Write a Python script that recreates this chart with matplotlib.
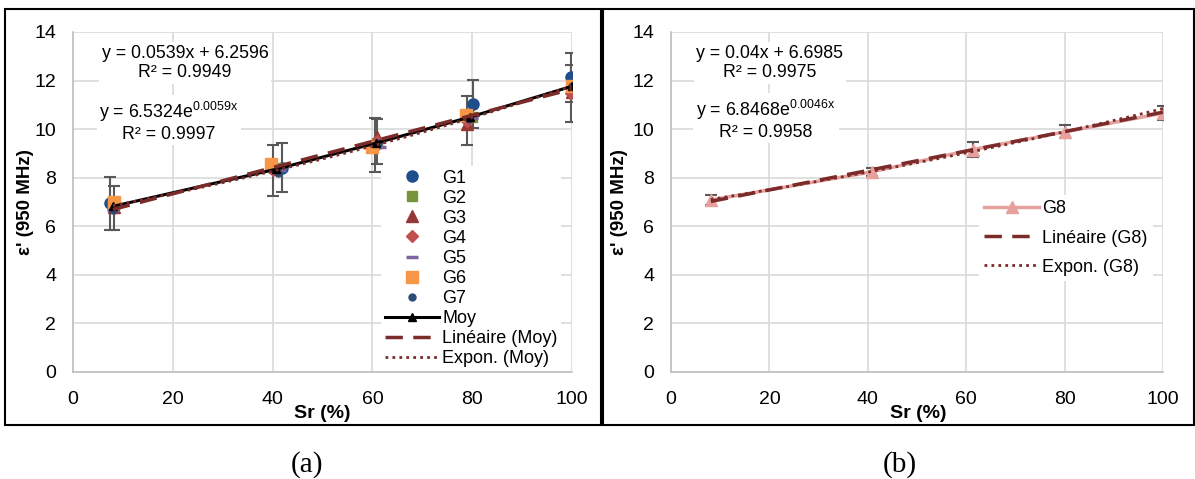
import numpy as np
import matplotlib
matplotlib.use("Agg")
import matplotlib.pyplot as plt
from matplotlib.patches import Rectangle

plt.rcParams['font.family'] = ['Liberation Sans', 'DejaVu Sans']
plt.rcParams['mathtext.fontset'] = 'custom'
plt.rcParams['mathtext.rm'] = 'Liberation Sans'
plt.rcParams['mathtext.it'] = 'Liberation Sans'

# --- data, panel (a) ---
g1_x = [7.4, 41.8, 60.5, 80.1, 99.7]
g1_y = [6.94, 8.42, 9.35, 11.03, 12.13]
g1_err = [1.1, 1.0, 1.1, 1.0, 1.0]
g2_x = [8.0, 40.6, 61.0, 79.9, 100.0]
g2_y = [6.85, 8.38, 9.45, 10.50, 11.70]
g3_x = [8.2, 40.5, 60.9, 79.0, 100.0]
g3_y = [6.80, 8.45, 9.66, 10.23, 11.55]
g4_x = [8.3, 40.1, 60.9, 79.0, 99.8]
g4_y = [6.75, 8.30, 9.50, 10.35, 11.47]
g4_err = [0.9, 1.05, 0.92, 1.0, 1.17]
g5_x = [8.1, 41.5, 61.5, 80.0, 100.0]
g5_y = [6.69, 8.30, 9.25, 10.45, 11.75]
g6_x = [8.2, 39.6, 59.9, 78.7, 99.9]
g6_y = [7.01, 8.56, 9.25, 10.58, 11.77]
g7_x = [8.0, 41.1, 61.2, 79.3, 100.0]
g7_y = [6.66, 8.18, 9.41, 10.40, 11.77]
moy_x = [8.0, 40.7, 60.8, 79.6, 99.9]
moy_y = [6.82, 8.35, 9.43, 10.50, 11.76]
lin_a = (0.0539, 6.2596)
exp_a = (6.5324, 0.0059)

# --- data, panel (b) ---
g8_x = [8.1, 40.8, 61.3, 80.1, 100.0]
g8_y = [7.08, 8.24, 9.16, 9.89, 10.66]
g8_err = [0.2, 0.15, 0.3, 0.27, 0.3]
lin_b = (0.04, 6.6985)
exp_b = (6.8468, 0.0046)

W, H = 1195, 479
fig = plt.figure(figsize=(W / 100, H / 100), dpi=100)

# panel frames
for x0, x1 in [(5, 601), (603, 1194)]:
    fig.add_artist(Rectangle((x0 / W, 1 - 425 / H), (x1 - x0) / W, (425 - 9) / H,
                             transform=fig.transFigure, fill=False,
                             edgecolor='black', linewidth=1.5))

ax1 = fig.add_axes([73 / W, 1 - 372 / H, 499 / W, 340 / H])
ax2 = fig.add_axes([671 / W, 1 - 372 / H, 492 / W, 340 / H])

for ax in (ax1, ax2):
    ax.set_xlim(0, 100)
    ax.set_ylim(0, 14)
    ax.set_xticks(range(0, 101, 20))
    ax.set_yticks(range(0, 15, 2))
    ax.grid(True, color='#D9D9D9', linewidth=1.2)
    ax.set_axisbelow(True)
    for s in ('top', 'right'):
        ax.spines[s].set_visible(False)
    for s in ('left', 'bottom'):
        ax.spines[s].set_color('#BFBFBF')
        ax.spines[s].set_linewidth(1.2)
    ax.tick_params(length=0, labelsize=14, pad=12)
    ax.tick_params(axis='x', pad=14)

ebar = dict(fmt='none', ecolor='#595959', elinewidth=1.5, capsize=4, capthick=1.5, zorder=2)
ax1.errorbar(g1_x, g1_y, yerr=g1_err, **ebar)
ax1.errorbar(g4_x, g4_y, yerr=g4_err, **ebar)

ax1.plot(g1_x, g1_y, 'o', color='#1F4E8C', ms=8, ls='none', label='G1', zorder=3)
ax1.plot(g2_x, g2_y, 's', color='#77933C', ms=6.5, ls='none', label='G2', zorder=3)
ax1.plot(g3_x, g3_y, '^', color='#953735', ms=8, ls='none', label='G3', zorder=3)
ax1.plot(g4_x, g4_y, 'D', color='#C0504D', ms=6, ls='none', label='G4', zorder=3)
ax1.plot(g5_x, g5_y, '_', color='#8064A2', ms=9, mew=2.5, ls='none', label='G5', zorder=3)
ax1.plot(g6_x, g6_y, 's', color='#F79646', ms=8, ls='none', label='G6', zorder=3)
ax1.plot(g7_x, g7_y, 'o', color='#2C4D75', ms=5, ls='none', label='G7', zorder=3)
ax1.plot(moy_x, moy_y, '-^', color='black', lw=2.2, ms=6, label='Moy', zorder=4)

xs = np.linspace(min(moy_x), max(moy_x), 100)
ax1.plot(xs, lin_a[0] * xs + lin_a[1], color='#7B2C2A', lw=2.5, ls=(0, (5, 3)),
         label='Linéaire (Moy)', zorder=5)
ax1.plot(xs, exp_a[0] * np.exp(exp_a[1] * xs), color='#7B2C2A', lw=2, ls=(0, (1, 1.5)),
         label='Expon. (Moy)', zorder=5)

leg1 = ax1.legend(loc='upper left', bbox_to_anchor=(308 / 499, 1 - 134 / 340),
                  frameon=True, fontsize=13, handlelength=3.0, handletextpad=0.2,
                  labelspacing=0.17, borderpad=0.2, borderaxespad=0)
leg1.get_frame().set_edgecolor('none')
leg1.get_frame().set_facecolor('white')
leg1.get_frame().set_alpha(1)
leg1.set_zorder(6)

ax2.errorbar(g8_x, g8_y, yerr=g8_err, **ebar)
ax2.plot(g8_x, g8_y, '-^', color='#E6A09E', lw=2.5, ms=9, label='G8', zorder=3)
xs2 = np.linspace(min(g8_x), max(g8_x), 100)
ax2.plot(xs2, lin_b[0] * xs2 + lin_b[1], color='#7B2C2A', lw=2.5, ls=(0, (5, 3)),
         label='Linéaire (G8)', zorder=5)
ax2.plot(xs2, exp_b[0] * np.exp(exp_b[1] * xs2), color='#7B2C2A', lw=2, ls=(0, (1, 1.5)),
         label='Expon. (G8)', zorder=5)
leg2 = ax2.legend(loc='upper left', bbox_to_anchor=(308 / 492, 1 - 163 / 340),
                  frameon=True, fontsize=13, handlelength=3.0, handletextpad=0.2,
                  labelspacing=0.67, borderpad=0.3, borderaxespad=0)
leg2.get_frame().set_edgecolor('none')
leg2.get_frame().set_facecolor('white')
leg2.get_frame().set_alpha(1)
leg2.set_zorder(6)

# trendline equations
box = dict(facecolor='white', edgecolor='none', pad=2)
def eq(x, y, s):
    fig.text(x, y, s, ha='center', va='center', fontsize=12.8, bbox=box,
             zorder=7, linespacing=1.15)

eq(185 / W, 1 - 63 / H, 'y = %.4fx + %.4f\nR² = 0.9949' % lin_a)
eq(169 / W, 1 - 121 / H, 'y = %.4fe$^{%.4fx}$\nR² = 0.9997' % exp_a)
eq(770 / W, 1 - 63 / H, 'y = 0.04x + %.4f\nR² = 0.9975' % lin_b[1])
eq(766 / W, 1 - 119 / H, 'y = %.4fe$^{%.4fx}$\nR² = 0.9958' % exp_b)

# axis labels
for x in (26, 620):
    fig.text(x / W, 1 - 202 / H, "ε' (950 MHz)", rotation=90, ha='center', va='center',
             fontsize=13.5, fontweight='bold')
fig.text(322 / W, 1 - 413 / H, 'Sr (%)', ha='center', va='center', fontsize=14, fontweight='bold')
fig.text(918 / W, 1 - 413 / H, 'Sr (%)', ha='center', va='center', fontsize=14, fontweight='bold')

fig.text(307 / W, 1 - 465 / H, '(a)', ha='center', va='center', fontsize=21,
         family=['Liberation Serif', 'DejaVu Serif'])
fig.text(900 / W, 1 - 465 / H, '(b)', ha='center', va='center', fontsize=21,
         family=['Liberation Serif', 'DejaVu Serif'])

fig.savefig('out.png', dpi=100)
